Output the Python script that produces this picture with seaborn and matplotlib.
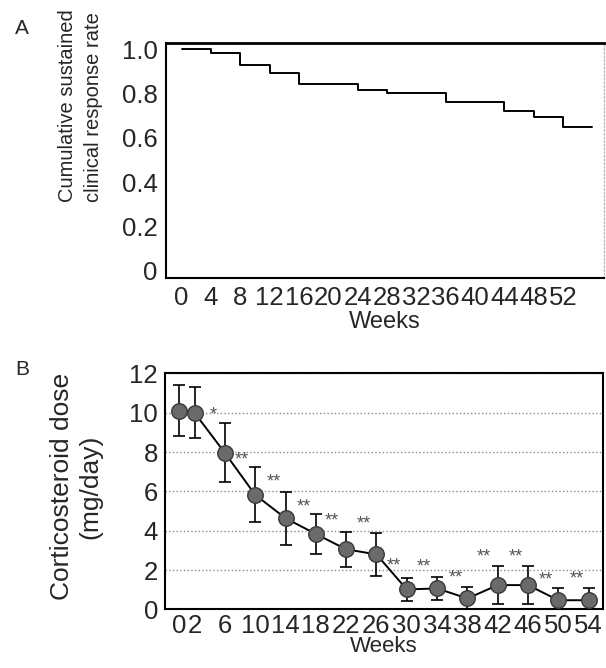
import numpy as np
import pandas as pd
import seaborn as sns
import matplotlib
matplotlib.use("Agg")
import matplotlib.pyplot as plt
from matplotlib.ticker import MultipleLocator, FixedLocator

# panel A: cumulative sustained clinical response (step curve)
km_weeks = [0, 4, 8, 12, 16, 24, 28, 36, 44, 48, 52, 56]
km_rate = [1.0, 0.985, 0.931, 0.892, 0.843, 0.816, 0.801, 0.761, 0.721, 0.696, 0.648, 0.648]
a_xticks = [0, 4, 8, 12, 16, 20, 24, 28, 32, 36, 40, 44, 48, 52]

# panel B: corticosteroid dose, mean +/- error
dose_weeks = [0, 2, 6, 10, 14, 18, 22, 26, 30, 34, 38, 42, 46, 50, 54]
dose_mean = [10.1, 10.0, 7.96, 5.83, 4.64, 3.84, 3.06, 2.8, 1.02, 1.07, 0.56, 1.24, 1.24, 0.47, 0.47]
dose_err = [1.3, 1.3, 1.5, 1.4, 1.35, 1.0, 0.9, 1.1, 0.6, 0.6, 0.6, 0.95, 0.95, 0.6, 0.6]

# significance marks (position)
star_weeks = [4.5, 8.3, 12.4, 16.4, 20.1, 24.3, 28.3, 32.3, 36.5, 40.2, 44.4, 48.3, 52.5]
star_vals = [9.9, 7.6, 6.46, 5.23, 4.5, 4.33, 2.22, 2.17, 1.6, 2.68, 2.68, 1.49, 1.53]
star_text = ["*"] + ["**"] * 12

sns.set_style("white")
plt.rcParams['font.family'] = ['Liberation Sans', 'DejaVu Sans']

fig = plt.figure(figsize=(6.06, 6.68), dpi=100)
axA = fig.add_axes([0.2739, 0.5843, 0.7228, 0.3518])
axB = fig.add_axes([0.2723, 0.0876, 0.7228, 0.3533])

tick_fs = 18.5

# ---- A ----
dfA = pd.DataFrame({"week": km_weeks, "rate": km_rate})
sns.lineplot(data=dfA, x="week", y="rate", ax=axA, drawstyle="steps-post",
             color="black", linewidth=1.4)
axA.set_xlim(-2.14, 57.6)
axA.set_ylim(-0.032, 1.03)
axA.xaxis.set_major_locator(FixedLocator(a_xticks))
axA.yaxis.set_major_locator(MultipleLocator(0.2))
axA.yaxis.set_minor_locator(MultipleLocator(0.1))
axA.set_yticklabels(["0" if abs(v) < 1e-9 else f"{v:.1f}" for v in axA.get_yticks()])
axA.tick_params(axis="both", which="both", direction="in", length=3, width=1,
                labelsize=tick_fs, pad=6)
axA.tick_params(axis="y", which="minor", length=3)
axA.set_xlabel("Weeks", fontsize=17, labelpad=1)
axA.set_ylabel("")
for s in ["left", "top", "bottom"]:
    axA.spines[s].set_color("black")
    axA.spines[s].set_linewidth(1.5)
axA.spines["top"].set_linewidth(2)
axA.spines["right"].set_color("#bbbbbb")
axA.spines["right"].set_linestyle(":")
axA.spines["right"].set_linewidth(1)
axA.text(-0.196, 0.32, "Cumulative sustained\nclinical response rate",
         transform=axA.transAxes, rotation=90, ha="center", va="bottom",
         multialignment="left", fontsize=14.5, linespacing=1.45)

# ---- B ----
dfB = pd.DataFrame({"week": dose_weeks, "dose": dose_mean, "err": dose_err})
axB.errorbar(dfB["week"], dfB["dose"], yerr=dfB["err"], fmt="none",
             ecolor="black", elinewidth=1.2, capsize=4, capthick=1.2, zorder=2)
sns.lineplot(data=dfB, x="week", y="dose", ax=axB, color="black",
             linewidth=1.4, zorder=3)
sns.scatterplot(data=dfB, x="week", y="dose", ax=axB, s=125, marker="o",
                color="#6a6a6a", edgecolor="#3a3a3a", linewidth=1, zorder=4)
for w, v, t in zip(star_weeks, star_vals, star_text):
    axB.text(w, v, t, ha="center", va="center", fontsize=13, color="#555555")
axB.set_xlim(-1.9, 55.9)
axB.set_ylim(0, 12)
axB.xaxis.set_major_locator(FixedLocator(dose_weeks))
axB.set_xticklabels([str(w) for w in dose_weeks])
axB.yaxis.set_major_locator(MultipleLocator(2))
axB.grid(axis="y", linestyle=":", color="#8a8a8a", linewidth=1)
axB.tick_params(axis="both", direction="in", length=3, width=1,
                labelsize=tick_fs, pad=5)
axB.tick_params(axis="x", pad=3)
axB.set_xlabel("Weeks", fontsize=16, labelpad=-1)
axB.set_ylabel("")
for s in axB.spines.values():
    s.set_color("black")
    s.set_linewidth(1.5)
axB.text(-0.203, 0.52, "Corticosteroid dose\n(mg/day)",
         transform=axB.transAxes, rotation=90, ha="center", va="center",
         multialignment="center", fontsize=19, linespacing=1.2)

fig.text(0.036, 0.958, "A", fontsize=15, ha="center", va="center")
fig.text(0.036, 0.447, "B", fontsize=15, ha="center", va="center")

fig.savefig("out.png", dpi=100)
